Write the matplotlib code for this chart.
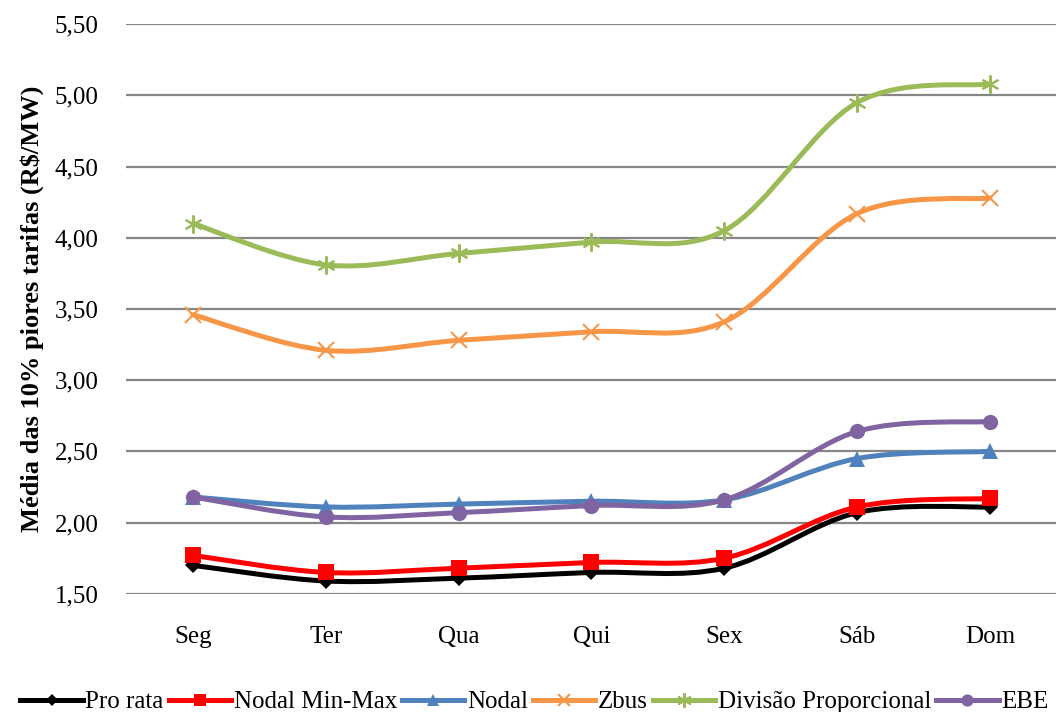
'''Média das 10% piores tarifas por dia da semana, por método de alocação'''

import numpy as np
import matplotlib
matplotlib.use('Agg')
import matplotlib.pyplot as plt
from matplotlib.path import Path
from matplotlib.patches import PathPatch
from matplotlib.ticker import FuncFormatter, MultipleLocator

plt.rcParams['font.family'] = ['Liberation Serif', 'DejaVu Serif']

dias = ['Seg', 'Ter', 'Qua', 'Qui', 'Sex', 'Sáb', 'Dom']

pro_rata = [1.70, 1.59, 1.61, 1.65, 1.68, 2.07, 2.11]
nodal_min_max = [1.77, 1.65, 1.68, 1.72, 1.75, 2.11, 2.17]
nodal = [2.18, 2.11, 2.13, 2.15, 2.16, 2.45, 2.50]
zbus = [3.46, 3.21, 3.28, 3.34, 3.41, 4.17, 4.28]
divisao_proporcional = [4.10, 3.81, 3.89, 3.97, 4.05, 4.95, 5.08]
ebe = [2.18, 2.04, 2.07, 2.12, 2.16, 2.64, 2.71]

series = [
    ('Pro rata', pro_rata, '#000000', 'D', 8),
    ('Nodal Min-Max', nodal_min_max, '#FF0000', 's', 11),
    ('Nodal', nodal, '#4F81BD', '^', 11),
    ('Zbus', zbus, '#F79646', 'x', 11),
    ('Divisão Proporcional', divisao_proporcional, '#9BBB59', (6, 2, 0), 13),
    ('EBE', ebe, '#8064A2', 'o', 11),
]


def smooth_path(x, y):
    # bezier estilo Catmull-Rom, como a linha suavizada do Excel
    pts = np.column_stack([x, y]).astype(float)
    verts = [pts[0]]
    codes = [Path.MOVETO]
    n = len(pts)
    for i in range(n - 1):
        p0 = pts[i - 1] if i > 0 else pts[i]
        p1 = pts[i]
        p2 = pts[i + 1]
        p3 = pts[i + 2] if i + 2 < n else pts[i + 1]
        c1 = p1 + (p2 - p0) / 6.0
        c2 = p2 - (p3 - p1) / 6.0
        verts += [c1, c2, p2]
        codes += [Path.CURVE4] * 3
    return Path(verts, codes)


fig = plt.figure(figsize=(10.58, 7.12), dpi=100)
ax = fig.add_axes([0.1195, 0.166, 0.879, 0.800])

x = np.arange(len(dias))
for label, values, color, marker, ms in series:
    patch = PathPatch(smooth_path(x, values), facecolor='none', edgecolor=color,
                      linewidth=3.6, capstyle='round', joinstyle='round', zorder=3)
    ax.add_patch(patch)
    mew = 1.5 if marker in ('x', (6, 2, 0)) else 0
    ax.plot(x, values, linestyle='none', marker=marker, markersize=ms, color=color,
            markeredgewidth=mew, zorder=4)
    # handle da legenda: linha com marcador
    ax.plot([], [], color=color, linewidth=3.6, marker=marker, markersize=ms * 0.8,
            markeredgewidth=mew, label=label)

ax.set_xlim(-0.5, len(dias) - 0.5)
ax.set_ylim(1.5, 5.5)
ax.yaxis.set_major_locator(MultipleLocator(0.5))
ax.yaxis.set_major_formatter(FuncFormatter(lambda v, p: f'{v:.2f}'.replace('.', ',')))
ax.set_xticks(x)
ax.set_xticklabels(dias)
ax.tick_params(axis='both', length=0, labelsize=18)
ax.tick_params(axis='y', pad=20)
ax.tick_params(axis='x', pad=23)
ax.grid(axis='y', color='#868686', linewidth=1.6)
ax.set_axisbelow(True)
for s in ax.spines.values():
    s.set_visible(False)

ax.set_ylabel('Média das 10% piores tarifas (R$/MW)', fontsize=19, fontweight='bold',
              labelpad=8)

fig.legend(loc='lower center', bbox_to_anchor=(0.505, -0.016), ncol=6, fontsize=18,
           frameon=False, handlelength=2.5, handletextpad=0.1, columnspacing=0.2,
           borderaxespad=0.0)

fig.savefig('out.png', dpi=100)
